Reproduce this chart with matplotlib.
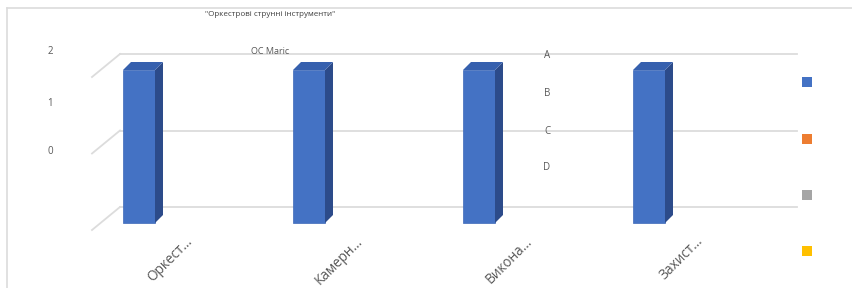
import matplotlib
matplotlib.use("Agg")
import matplotlib.pyplot as plt
from matplotlib.patches import Polygon, Rectangle
from matplotlib.lines import Line2D

plt.rcParams['font.family'] = ['Open Sans', 'DejaVu Sans']

# ---- data ----
title = '"Оркестрові струнні інструменти"'
subtitle = "OC Maric"
categories = ["Оркест…", "Камерн…", "Викона…", "Захист…"]
values = [2, 2, 2, 2]
y_ticks = [0, 1, 2]
y_tick_labels = ["0", "1", "2"]
side_labels = ["A", "B", "C", "D"]
legend_colors = ["#4472C4", "#ED7D31", "#A5A5A5", "#FFC000"]

W, H = 853, 288
fig = plt.figure(figsize=(W / 100, H / 100), dpi=100)

def fx(px):
    return px / W

def fy(py):
    return 1 - py / H

# axes for the front plane of the bars (pixel box)
L, R, T, B = 101, 778, 70, 223
ax = fig.add_axes([fx(L), fy(B), (R - L) / W, (B - T) / H])
sx = 170.0               # px per category
sy = (B - T) / 2.0       # px per value unit
x0 = (L - 139) / sx
ax.set_xlim(x0, x0 + (R - L) / sx)
ax.set_ylim(0, 2)
ax.set_axis_off()

xs = list(range(len(categories)))
grid_c = "#DCDCDC"

# back-wall gridlines and floor/wall diagonals
bdx, bdy = 19 / sx, 16 / sy     # back wall offset
fdx, fdy = -9 / sx, -7 / sy     # front edge offset
xl, xr = ax.get_xlim()
for v in y_ticks:
    ax.add_line(Line2D([xl + bdx, xr + bdx], [v + bdy, v + bdy], color=grid_c,
                       lw=1.3, zorder=1, clip_on=False))
    ax.add_line(Line2D([xl + fdx, xl + bdx], [v + fdy, v + bdy], color=grid_c,
                       lw=1.3, zorder=1, clip_on=False))

# bars with pseudo-3D faces
bw = 32 / sx
d = 8
ddx, ddy = d / sx, d / sy
bars = ax.bar(xs, values, width=bw, color="#4472C4", zorder=3, clip_on=False,
              edgecolor="#3D68B8", linewidth=0.5)
for rect in bars:
    x_l = rect.get_x()
    x_r = x_l + rect.get_width()
    h = rect.get_height()
    side = Polygon([(x_r, 0), (x_r + ddx, ddy), (x_r + ddx, h + ddy), (x_r, h)],
                   closed=True, facecolor="#2C4B8A", edgecolor="none", zorder=3,
                   clip_on=False)
    top = Polygon([(x_l, h), (x_r, h), (x_r + ddx, h + ddy), (x_l + ddx, h + ddy)],
                  closed=True, facecolor="#3660AE", edgecolor="none", zorder=3,
                  clip_on=False)
    ax.add_patch(side)
    ax.add_patch(top)

# category labels
lab_c = "#595959"
for x, lab in zip(xs, categories):
    ax.text(x + 46 / sx, -11 / sy, lab, rotation=45, rotation_mode="anchor",
            ha="right", va="top", fontsize=9.8, color=lab_c, clip_on=False)

# texts
fig.text(fx(270), fy(15), title, ha="center", va="center", fontsize=5.8, color="#404040")
fig.text(fx(270), fy(51), subtitle, ha="center", va="center", fontsize=6.5, color=lab_c)
for py, lab in zip([152, 103, 52], y_tick_labels):
    fig.text(fx(50), fy(py), lab, ha="center", va="center", fontsize=7, color=lab_c)
for py, lab in zip([56, 93, 132, 168], side_labels):
    fig.text(fx(547), fy(py), lab, ha="center", va="center", fontsize=7, color=lab_c)

# legend squares
for py, c in zip([82, 139, 195, 251], legend_colors):
    fig.patches.append(Rectangle((fx(802), fy(py + 5)), 10 / W, 10 / H, transform=fig.transFigure,
                                 facecolor=c, edgecolor="none"))

# outer frame (left and top edges visible)
fig.lines.append(Line2D([fx(7), fx(7)], [fy(8), 0], transform=fig.transFigure, color=grid_c, lw=1.2))
fig.lines.append(Line2D([fx(7), 1], [fy(8), fy(8)], transform=fig.transFigure, color=grid_c, lw=1.2))

fig.savefig("out.png", dpi=100, facecolor="white")
